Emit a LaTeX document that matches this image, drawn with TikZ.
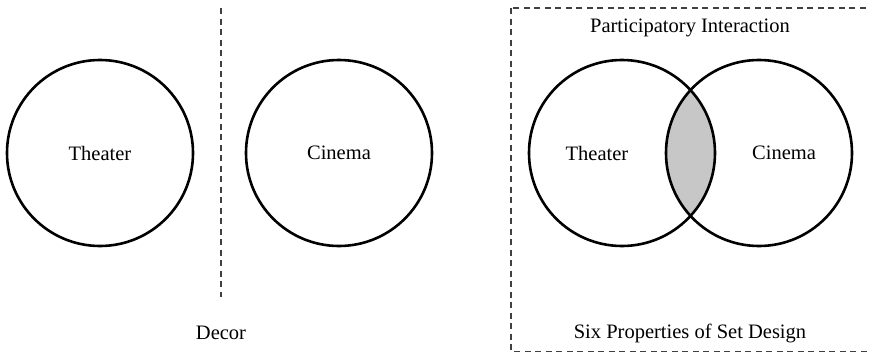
\documentclass[tikz,border=0pt]{standalone}
\usepackage{fontspec}
\setmainfont{Liberation Serif}
\usetikzlibrary{positioning}

\begin{document}
\begin{tikzpicture}[
        x=1pt, y=1pt,
        font=\fontsize{20.5}{22}\selectfont,
        set/.style={circle, draw, line width=2.6pt, minimum size=186pt, inner sep=0pt},
        divider/.style={draw=black!75, line width=1.1pt, dash pattern=on 6pt off 4.5pt},
        overlap/.style={fill=black!22},
        label/.style={inner sep=0pt}
    ]
      \useasboundingbox (0,0) rectangle (870,-351);

      % centres of the circles
      \coordinate (thLc) at (100,-153);
      \coordinate (ciLc) at (339,-153);
      \coordinate (thRc) at (622,-153);
      \coordinate (ciRc) at (759,-153);

      % shared part
      \begin{scope}
        \clip (thRc) circle (93);
        \fill[overlap] (ciRc) circle (93);
      \end{scope}

      % separate sets
      \node[set] (thL) at (thLc) {Theater};
      \node[set] (ciL) at (ciLc) {Cinema};
      \coordinate (divTop) at (221,-8);
      \coordinate (divBot) at (221,-297);
      \draw[divider] (divTop) -- (divBot);
      \node[label] (decor) at (221,-333) {Decor};

      % overlapping sets
      \node[set] (thR) at (thRc) {};
      \node[set] (ciR) at (ciRc) {};
      \node[label] (thRlab) at ([xshift=-25pt]thR.center) {Theater};
      \node[label] (ciRlab) at ([xshift=25pt]ciR.center) {Cinema};
      \coordinate (boxA) at (511,-8);
      \coordinate (boxB) at (870.2,-351.2);
      \draw[divider] (boxA) rectangle (boxB);
      \node[label] (part) at (690,-28) {Participatory Interaction};
      \node[label] (six) at (690,-333) {Six Properties of Set Design};
    \end{tikzpicture}
\end{document}
